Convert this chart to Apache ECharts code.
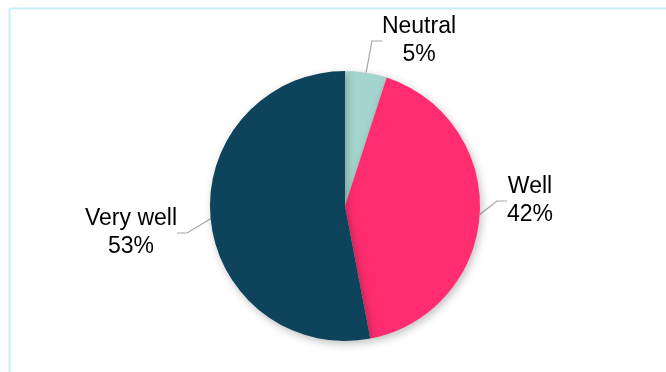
<!DOCTYPE html>
<html>
<head>
<meta charset="utf-8">
<script src="https://cdn.jsdelivr.net/npm/echarts@6/dist/echarts.min.js"></script>
<style>
  html, body { margin: 0; padding: 0; background: #fff; }
  #chart { width: 666px; height: 372px; }
</style>
</head>
<body>
<div id="chart"></div>
<script>
// Share of respondents by answer
const categories = ['Neutral', 'Well', 'Very well'];
const shares = [5, 42, 53];
const colors = ['#A5D4CF', '#FF2D6F', '#0D435B'];

// Where each outside label sits (label centre)
const labelSpots = [
  { x: 419, y: 41 },
  { x: 530, y: 201 },
  { x: 131, y: 233 }
];

const chart = echarts.init(document.getElementById('chart'), null, { renderer: 'canvas' });

chart.setOption({
  animation: false,
  backgroundColor: '#fff',
  graphic: [
    { type: 'line', shape: { x1: 9.5, y1: 8.5, x2: 666, y2: 8.5 }, style: { stroke: '#C9EEF8', lineWidth: 2 } },
    { type: 'line', shape: { x1: 9.5, y1: 8.5, x2: 9.5, y2: 372 }, style: { stroke: '#C9EEF8', lineWidth: 2 } }
  ],
  series: [{
    type: 'pie',
    center: [345, 206],
    radius: [0, 135],
    startAngle: 90,
    clockwise: true,
    data: categories.map((name, i) => ({
      name,
      value: shares[i],
      itemStyle: { color: colors[i] }
    })),
    itemStyle: {
      shadowBlur: 8,
      shadowOffsetX: 2,
      shadowOffsetY: 3,
      shadowColor: 'rgba(0,0,0,0.25)'
    },
    label: {
      show: true,
      position: 'outside',
      formatter: p => p.name + '\n' + p.value + '%',
      fontFamily: 'Liberation Sans, Arial, sans-serif',
      fontSize: 23,
      lineHeight: 28,
      color: '#000',
      align: 'center'
    },
    labelLine: {
      show: true,
      length: 10,
      length2: 10,
      lineStyle: { color: '#A6A6A6', width: 1.2 }
    },
    labelLayout: function (params) {
      const s = labelSpots[params.dataIndex];
      return { x: s.x, y: s.y, align: 'center', verticalAlign: 'middle' };
    }
  }]
});
</script>
</body>
</html>
